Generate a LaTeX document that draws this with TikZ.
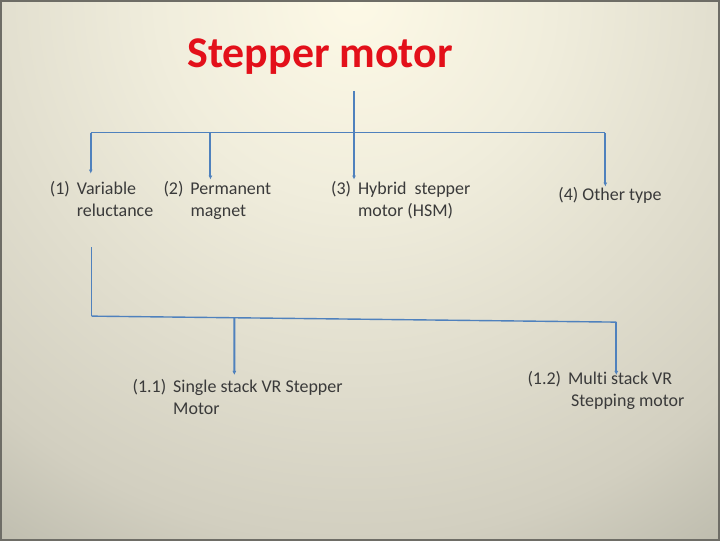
\documentclass[tikz,border=0pt]{standalone}
\usepackage{fontspec}
\setmainfont{Carlito}[Ligatures=NoCommon]
\usetikzlibrary{arrows.meta,positioning,calc}

\definecolor{linkblue}{HTML}{4F81BD}
\definecolor{txtgray}{HTML}{3A3A3A}
\definecolor{titlered}{HTML}{E3101A}
\definecolor{framegray}{HTML}{6E6D66}
\definecolor{bgA}{HTML}{FDF9E6}
\definecolor{bgB}{HTML}{F0EDDC}
\definecolor{bgC}{HTML}{D2CFC0}
\definecolor{bgD}{HTML}{B4B3A5}
\definecolor{bgE}{HTML}{A8A79A}
\definecolor{bgF}{HTML}{A3A194}
\definecolor{bgG}{HTML}{9A988B}
\pgfdeclareradialshading{slidebg}{\pgfpoint{0bp}{0bp}}{%
  color(0bp)=(bgA); color(3.8bp)=(bgB); color(10.4bp)=(bgC);
  color(13.7bp)=(bgD); color(17.2bp)=(bgE); color(20.8bp)=(bgF);
  color(25bp)=(bgG); color(50bp)=(bgG)}

% label with a hanging second line
\newcommand{\hangtext}[3]{\begin{tabular}[t]{@{}l@{\hspace{7pt}}l@{}}#1&#2\\&#3\end{tabular}}

\begin{document}
\begin{tikzpicture}[x=1pt, y=-1pt,
    label/.style={inner sep=0pt, outer sep=0pt, text=txtgray,
      font=\fontsize{18}{22}\selectfont, anchor=base west},
    titlebox/.style={inner sep=0pt, text=titlered,
      font=\fontsize{44}{50}\selectfont\bfseries, anchor=base},
    link/.style={draw=linkblue, line width=1.4pt},
    arr/.style={draw=linkblue, line width=2pt, -{Latex[length=4pt,width=4pt]}}
  ]
    % slide background
    \begin{scope}
      \clip (0,0) rectangle (720,540);
      \shade[shading=slidebg] (355,0) circle (1300);
    \end{scope}
    \draw[framegray, line width=2pt] (0,0) rectangle (720,540);
    \useasboundingbox (0,0) rectangle (720,540);

    \node[titlebox] (title) at (320,67) {Stepper motor};

    % first level
    \node[label] (vr) at (49,194) {\hangtext{(1)}{Variable}{reluctance}};
    \node[label] (pm) at (163,194) {\hangtext{(2)\hspace{-2pt}}{Permanent}{magnet}};
    \node[label] (hsm) at (331,194) {\hangtext{(3)\hspace{3pt}}{Hybrid\ \ stepper}{motor (HSM)}};
    \node[label] (other) at (559,200) {(4) Other type};

    \coordinate (stem) at (354,90);
    \coordinate (barL) at (90,132);
    \coordinate (barM) at (210,132);
    \coordinate (barR) at (606,132);
    \coordinate (tip1) at (90,173);
    \coordinate (tip2) at (210,179);
    \coordinate (tip3) at (354,179);
    \coordinate (tip4) at (606,186);

    \draw[link] (barL) -- (barR);
    \draw[arr] (stem) -- (tip3);
    \draw[arr] (barL) -- (tip1);
    \draw[arr] (barM) -- (tip2);
    \draw[arr] (barR) -- (tip4);

    % second level
    \node[label] (single) at (132,393) {\hangtext{(1.1)}{Single stack VR Stepper}{Motor}};
    \node[label] (multi) at (528,385) {\hangtext{(1.2)}{Multi stack VR}{\hspace{3pt}Stepping motor}};

    \coordinate (lowtop) at (91,247);
    \coordinate (lowL) at (91,316);
    \coordinate (lowR) at (617,322);
    \coordinate (lowM) at ($(lowL)!0.272!(lowR)$);
    \coordinate (tip11) at (234,375);
    \coordinate (tip12) at (617,375);

    \draw[link, line width=1pt] (lowtop) -- (lowL);
    \draw[link] (lowL) -- (lowR);
    \draw[arr] (lowM) -- (tip11);
    \draw[arr] (lowR) -- (tip12);
  \end{tikzpicture}
\end{document}
